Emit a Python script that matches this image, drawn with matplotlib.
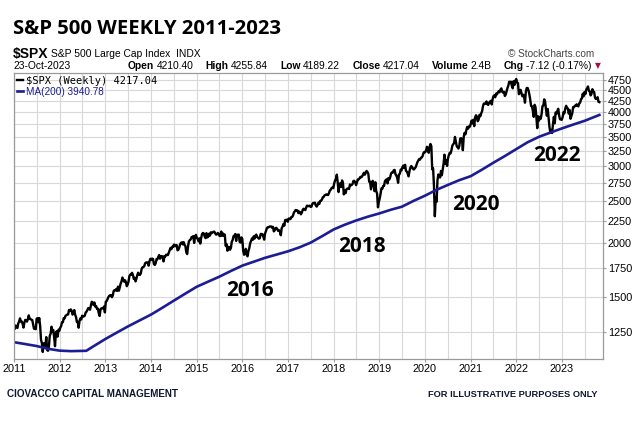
import numpy as np
import pandas as pd
import matplotlib
matplotlib.use('Agg')
import matplotlib.pyplot as plt
import matplotlib.dates as mdates
from matplotlib.ticker import FixedLocator, NullLocator, FixedFormatter

W, H = 640, 423

# weekly closes, one list per year
spx_2011 = [1272, 1293, 1283, 1276, 1307, 1321, 1343, 1320, 1321, 1304, 1279, 1313,
            1332, 1328, 1320, 1337, 1364, 1340, 1338, 1333, 1331, 1300, 1271, 1271, 1268,
            1340, 1344, 1316, 1345, 1292, 1199, 1178, 1124, 1177, 1174, 1154, 1216, 1136, 1131,
            1155, 1224, 1238, 1285, 1253, 1263, 1216, 1159, 1244, 1255, 1219, 1265, 1258]
spx_2012 = [1278, 1289, 1315, 1316, 1345, 1343, 1361, 1366, 1370, 1371, 1404, 1397, 1408,
            1398, 1370, 1378, 1403, 1369, 1353, 1317, 1318, 1278, 1325, 1343, 1335, 1362,
            1355, 1357, 1362, 1385, 1391, 1405, 1418, 1411, 1406, 1438, 1466, 1460, 1441,
            1461, 1429, 1433, 1412, 1414, 1380, 1360, 1409, 1416, 1418, 1414, 1430, 1386]
spx_2013 = [1466, 1472, 1486, 1503, 1513, 1518, 1519, 1502, 1515, 1551, 1560, 1556, 1569,
            1553, 1588, 1555, 1582, 1614, 1633, 1667, 1650, 1631, 1643, 1627, 1592, 1606,
            1632, 1680, 1692, 1691, 1709, 1691, 1655, 1664, 1633, 1655, 1688, 1710, 1692,
            1690, 1703, 1745, 1760, 1762, 1771, 1798, 1805, 1806, 1805, 1775, 1818, 1841]
spx_2014 = [1831, 1842, 1839, 1790, 1782, 1797, 1838, 1836, 1859, 1878, 1841, 1866, 1857,
            1865, 1815, 1864, 1863, 1881, 1878, 1877, 1900, 1924, 1950, 1937, 1962, 1961,
            1985, 1967, 1978, 1979, 1925, 1931, 1955, 1988, 2003, 2008, 1986, 2010, 1982,
            1968, 1906, 1887, 1965, 2018, 2032, 2039, 2064, 2068, 2075, 2002, 2071, 2089]
spx_2015 = [2058, 2044, 2019, 2051, 1995, 2055, 2097, 2110, 2105, 2071, 2053, 2108, 2061,
            2067, 2102, 2081, 2117, 2108, 2116, 2123, 2126, 2107, 2092, 2094, 2110, 2101,
            2077, 2077, 2126, 2079, 2104, 2078, 2092, 1971, 1989, 1921, 1961, 1958, 1931,
            1951, 2015, 2033, 2075, 2079, 2099, 2023, 2089, 2090, 2092, 2012, 2006, 2061]
spx_2016 = [2044, 1922, 1880, 1907, 1940, 1880, 1865, 1918, 1948, 1999, 2022, 2050, 2035,
            2073, 2048, 2081, 2092, 2065, 2057, 2047, 2052, 2099, 2099, 2096, 2071, 2037,
            2103, 2130, 2162, 2175, 2174, 2183, 2184, 2184, 2169, 2180, 2128, 2139, 2165, 2168,
            2153, 2133, 2141, 2126, 2085, 2164, 2182, 2213, 2192, 2260, 2259, 2264, 2239]
spx_2017 = [2277, 2275, 2271, 2295, 2297, 2316, 2351, 2367, 2383, 2373, 2378, 2344, 2363,
            2355, 2329, 2349, 2384, 2399, 2391, 2382, 2416, 2439, 2432, 2433, 2438, 2423,
            2425, 2459, 2473, 2472, 2477, 2441, 2426, 2444, 2477, 2461, 2500, 2502, 2519,
            2549, 2553, 2575, 2581, 2588, 2582, 2579, 2603, 2642, 2652, 2676, 2684, 2674]
spx_2018 = [2743, 2786, 2810, 2873, 2762, 2620, 2732, 2747, 2691, 2786, 2752, 2588, 2641,
            2604, 2656, 2670, 2670, 2663, 2728, 2713, 2721, 2735, 2779, 2780, 2755, 2718,
            2760, 2801, 2802, 2819, 2840, 2833, 2850, 2875, 2902, 2872, 2905, 2930, 2914,
            2886, 2767, 2768, 2658, 2723, 2781, 2736, 2633, 2760, 2633, 2600, 2417, 2486]
spx_2019 = [2532, 2596, 2671, 2665, 2707, 2708, 2776, 2793, 2804, 2743, 2822, 2801, 2834,
            2893, 2907, 2905, 2940, 2946, 2881, 2860, 2826, 2752, 2873, 2887, 2951, 2942,
            2990, 3014, 2977, 3026, 2932, 2919, 2889, 2847, 2926, 2979, 3007, 2992, 2962,
            2952, 2970, 2986, 3023, 3067, 3093, 3120, 3110, 3141, 3146, 3169, 3221, 3240]
spx_2020 = [3235, 3265, 3330, 3295, 3226, 3328, 3380, 3338, 2954, 2972, 2711, 2305, 2541,
            2489, 2790, 2875, 2837, 2831, 2930, 2864, 2955, 3044, 3194, 3041, 3098, 3009,
            3130, 3185, 3225, 3216, 3271, 3351, 3373, 3397, 3508, 3427, 3341, 3319, 3298,
            3348, 3477, 3484, 3465, 3270, 3510, 3585, 3558, 3638, 3699, 3663, 3709, 3703]
spx_2021 = [3756, 3825, 3768, 3841, 3714, 3887, 3934, 3907, 3811, 3842, 3943, 3913, 3975,
            4020, 4129, 4185, 4180, 4181, 4233, 4174, 4156, 4204, 4230, 4247, 4166, 4281,
            4353, 4370, 4327, 4412, 4395, 4437, 4468, 4442, 4509, 4535, 4459, 4433, 4455,
            4357, 4391, 4471, 4545, 4605, 4698, 4682, 4698, 4595, 4538, 4712, 4620, 4725, 4766]
spx_2022 = [4677, 4663, 4398, 4432, 4501, 4419, 4349, 4385, 4329, 4204, 4463, 4543,
            4546, 4488, 4393, 4272, 4132, 4123, 4024, 3901, 4158, 4109, 3901, 3675, 3912,
            3825, 3899, 3863, 3962, 4130, 4145, 4280, 4228, 4058, 3924, 4067, 3873, 3693, 3586,
            3640, 3583, 3753, 3901, 3771, 3993, 3965, 4026, 4072, 3934, 3852, 3845, 3840]
spx_2023 = [3895, 3999, 3973, 4071, 4136, 4090, 4079, 3970, 4046, 3862, 3917, 3971, 4109,
            4105, 4138, 4133, 4169, 4136, 4124, 4192, 4205, 4282, 4299, 4410, 4349, 4450,
            4399, 4505, 4536, 4582, 4478, 4464, 4370, 4406, 4516, 4457, 4450, 4320, 4288,
            4309, 4328, 4224, 4217.04]

# 200-week moving average (quarterly)
ma_dates = ['2011-01-07', '2011-04-01', '2011-07-01', '2011-10-01', '2012-01-01', '2012-04-01',
            '2012-08-01', '2012-10-01', '2013-01-01', '2013-04-01', '2013-07-01', '2013-10-01',
            '2014-01-01', '2014-04-01', '2014-07-01', '2014-10-01', '2015-01-01', '2015-04-01',
            '2015-07-01', '2015-10-01', '2016-01-01', '2016-04-01', '2016-07-01', '2016-10-01',
            '2017-01-01', '2017-04-01', '2017-07-01', '2017-10-01', '2018-01-01', '2018-04-01',
            '2018-07-01', '2018-10-01', '2019-01-01', '2019-04-01', '2019-07-01', '2019-10-01',
            '2020-01-01', '2020-04-01', '2020-07-01', '2020-10-01', '2021-01-01', '2021-04-01',
            '2021-07-01', '2021-10-01', '2022-01-01', '2022-04-01', '2022-07-01', '2022-10-01',
            '2023-01-01', '2023-04-01', '2023-07-01', '2023-10-27']
ma_200 = [1183, 1172, 1160, 1143, 1132, 1129,
          1131, 1160, 1204, 1245, 1287, 1328,
          1370, 1420, 1474, 1530, 1587, 1630,
          1674, 1725, 1775, 1812, 1850, 1882,
          1915, 1955, 2005, 2075, 2150, 2205,
          2255, 2300, 2340, 2385, 2425, 2500,
          2570, 2650, 2720, 2790, 2850, 2950,
          3060, 3170, 3290, 3410, 3510, 3590,
          3670, 3745, 3820, 3940.78]

y_ticks = list(range(1250, 5000, 250))

spx_close = np.array(spx_2011 + spx_2012 + spx_2013 + spx_2014 + spx_2015 + spx_2016 + spx_2017
                     + spx_2018 + spx_2019 + spx_2020 + spx_2021 + spx_2022 + spx_2023, dtype=float)
week_dates = pd.date_range('2011-01-07', periods=len(spx_close), freq='W-FRI')

fig = plt.figure(figsize=(6.4, 4.23), dpi=100)
ax = fig.add_axes([14 / W, 1 - 359 / H, (603 - 14) / W, (359 - 73) / H])

ax.plot(week_dates, spx_close, color='black', lw=1.7,
        label='\\$SPX (Weekly) %.2f' % spx_close[-1])
ax.plot(pd.to_datetime(ma_dates), ma_200, color='#1c1c94', lw=1.9,
        label='MA(200) %.2f' % ma_200[-1])

ax.set_yscale('log')
ax.set_ylim(1083, 4920)
ax.yaxis.set_major_locator(FixedLocator(y_ticks))
ax.yaxis.set_major_formatter(FixedFormatter([str(v) for v in y_ticks]))
ax.yaxis.set_minor_locator(NullLocator())
ax.yaxis.tick_right()

ax.set_xlim(pd.Timestamp('2011-01-01'), pd.Timestamp('2023-11-25'))
ax.xaxis.set_major_locator(mdates.YearLocator())
ax.xaxis.set_major_formatter(mdates.DateFormatter('%Y'))
ax.xaxis.set_minor_locator(mdates.MonthLocator(bymonth=7))

ax.grid(which='both', color='#d8d8d8', lw=0.8)
ax.set_axisbelow(True)
for s in ax.spines.values():
    s.set_color('#9a9a9a')
    s.set_linewidth(0.9)
ax.tick_params(axis='both', which='major', labelsize=7.8, length=2, pad=1.5,
               color='#9a9a9a', labelfontfamily='Liberation Sans')
ax.tick_params(axis='x', which='minor', length=0)

leg = ax.legend(loc='upper left', frameon=False, handlelength=0.6, handletextpad=0.3,
                borderaxespad=0.2, borderpad=0.1, labelspacing=0.05, fontsize=7.5)
leg.get_texts()[0].set_fontfamily('DejaVu Sans Mono')
leg.get_texts()[1].set_fontfamily('Liberation Sans')
leg.get_texts()[1].set_color('#1c1c94')
leg.get_texts()[1].set_fontsize(7.2)

fig.canvas.draw()
rend = fig.canvas.get_renderer()


def fit_width(txt, target):
    # scale the font so the text spans the same pixel width as the reference
    w = txt.get_window_extent(rend).width
    txt.set_fontsize(txt.get_fontsize() * target / w)


# header
title = fig.text(12.7 / W, 1 - 29 / H, 'S&P 500 WEEKLY 2011-2023', fontsize=16, fontweight='bold',
                 family='Open Sans', va='center')
fit_width(title, 269)
fig.text(13 / W, 1 - 54 / H, '\\$SPX', fontsize=10, fontweight='bold', family='Liberation Sans', va='center')
fig.text(51 / W, 1 - 54 / H, 'S&P 500 Large Cap Index  INDX', fontsize=7.4, family='Liberation Sans', va='center')
fig.text(594 / W, 1 - 54 / H, '\u00a9 StockCharts.com', fontsize=7.2, family='Liberation Sans',
         color='#444444', ha='right', va='center')

fig.text(13 / W, 1 - 66 / H, '23-Oct-2023', fontsize=7.4, family='Liberation Sans', va='center')
row2 = [('Open', 'bold'), ('4210.40', 'normal'), ('High', 'bold'), ('4255.84', 'normal'),
        ('Low', 'bold'), ('4189.22', 'normal'), ('Close', 'bold'), ('4217.04', 'normal'),
        ('Volume', 'bold'), ('2.4B', 'normal'), ('Chg', 'bold'), ('-7.12 (-0.17%)', 'normal')]
row2_txt = [fig.text(0, 1 - 66 / H, t, fontsize=7.4, fontweight=w, family='Liberation Sans', va='center')
            for t, w in row2]
widths = [t.get_window_extent(rend).width for t in row2_txt]
x0, x1 = 128, 592
gap = (x1 - x0 - sum(widths) - 6 * 2.5) / 5
x = x0
for i, t in enumerate(row2_txt):
    t.set_x(x / W)
    x += widths[i] + (2.5 if i % 2 == 0 else gap)
fig.text(595 / W, 1 - 66 / H, '\u25bc', fontsize=5.5, color='#a01040', family='DejaVu Sans', va='center')

# year callouts
for x, y, t in [(249.5, 291, '2016'), (361.5, 247, '2018'), (476, 205, '2020'), (556.5, 155.5, '2022')]:
    fig.text(x / W, 1 - y / H, t, fontsize=15, fontweight='bold', family='Open Sans',
             ha='center', va='center')

# footer
foot_l = fig.text(7 / W, 1 - 394 / H, 'CIOVACCO CAPITAL MANAGEMENT', fontsize=7, fontweight='bold',
                  family='Liberation Sans', color='#101830', va='center')
foot_r = fig.text(597 / W, 1 - 394 / H, 'FOR ILLUSTRATIVE PURPOSES ONLY', fontsize=7, fontweight='bold',
                  family='Liberation Sans', color='#101830', ha='right', va='center')
fit_width(foot_l, 172)
fit_width(foot_r, 170)

fig.savefig('out.png', dpi=100)
